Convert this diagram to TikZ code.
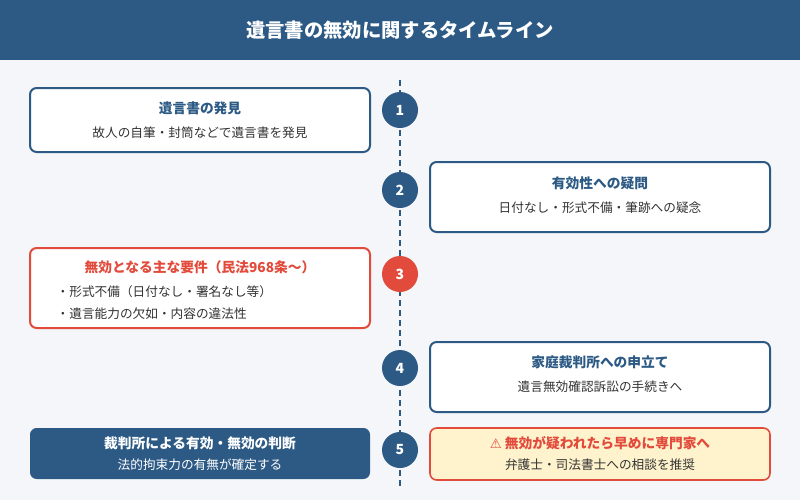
\documentclass[tikz,border=0pt]{standalone}
\usepackage{fontspec}
\setmainfont{Noto Sans CJK JP}
\newfontfamily\dvs{DejaVu Sans}
\begin{document}
\begin{tikzpicture}[x=0.75pt,y=-0.75pt,
  box/.style={draw=#1,line width=1.5pt,rounded corners=5pt,fill=white},
  num/.style={circle,fill=#1,minimum size=27pt,inner sep=0pt,text=white,font=\fontsize{10.5}{12}\selectfont\bfseries},
  hd/.style={font=\fontsize{10.3}{12}\selectfont\bfseries,text=#1},
  bd/.style={font=\fontsize{9.5}{11}\selectfont,text=txt}]
\definecolor{navy}{HTML}{2C5A85}
\definecolor{redc}{HTML}{E24B3B}
\definecolor{bg}{HTML}{F4F6F9}
\definecolor{txt}{HTML}{333333}
\definecolor{yel}{HTML}{FFF3CD}
\useasboundingbox (0,0) rectangle (800,500);
\fill[bg] (0,0) rectangle (800,500);
\fill[navy] (0,0) rectangle (800,60);
\node[text=white,font=\fontsize{14.5}{17}\selectfont\bfseries] (title) at (400,30) {遺言書の無効に関するタイムライン};
\coordinate (top) at (400,80);
\coordinate (bot) at (400,490);
\draw[navy,line width=2.2pt,dash pattern=on 4.5pt off 3pt] (top) -- (bot);
% boxes
\draw[box=navy] (30,88) rectangle (370,152);
\node[hd=navy] (h1) at (200,108) {遺言書の発見};
\node[bd] (b1) at (200,133) {故人の自筆・封筒などで遺言書を発見};
\draw[box=navy] (430,162) rectangle (770,232);
\node[hd=navy] (h2) at (600,183) {有効性への疑問};
\node[bd] (b2) at (600,208) {日付なし・形式不備・筆跡への疑念};
\draw[box=redc] (30,248) rectangle (370,328);
\node[hd=redc] (h3) at (200,267) {無効となる主な要件（民法968条〜）};
\node[bd,anchor=west] (b3a) at (52,292) {・形式不備（日付なし・署名なし等）};
\node[bd,anchor=west] (b3b) at (52,314) {・遺言能力の欠如・内容の違法性};
\draw[box=navy] (430,342) rectangle (770,412);
\node[hd=navy] (h4) at (600,362) {家庭裁判所への申立て};
\node[bd] (b4) at (600,387) {遺言無効確認訴訟の手続きへ};
\fill[navy,rounded corners=5pt] (30,428) rectangle (370,479);
\node[hd=white] (h5) at (200,443) {裁判所による有効・無効の判断};
\node[bd,text=white] (b5) at (200,465) {法的拘束力の有無が確定する};
\draw[box=redc,fill=yel,line width=1.2pt] (430,428) rectangle (770,480);
\node[hd=redc] (h6) at (600,443) {{\dvs\fontsize{10}{11}\selectfont ⚠} 無効が疑われたら早めに専門家へ};
\node[bd] (b6) at (600,465) {弁護士・司法書士への相談を推奨};
% circles
\node[num=navy] (c1) at (400,110) {1};
\node[num=navy] (c2) at (400,190) {2};
\node[num=redc] (c3) at (400,274) {3};
\node[num=navy] (c4) at (400,368) {4};
\node[num=navy] (c5) at (400,450) {5};
\end{tikzpicture}
\end{document}
